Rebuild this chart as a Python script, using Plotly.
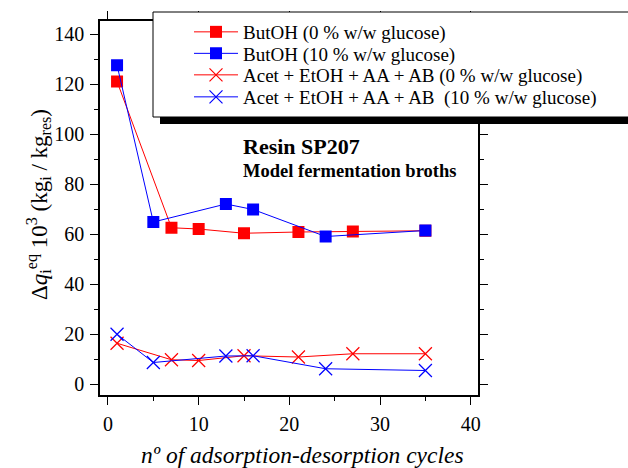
import plotly.graph_objects as go

FONT = "Liberation Serif"

# Data
but0_x = [1, 7, 10, 15, 21, 27, 35]
but0_y = [121, 62.5, 62, 60.3, 60.8, 61, 61.3]
but10_x = [1, 5, 13, 16, 24, 35]
but10_y = [127.5, 64.8, 72, 69.8, 59, 61.4]
acet0_x = [1, 7, 10, 15, 21, 27, 35]
acet0_y = [16.3, 9.7, 9.4, 11.3, 10.8, 12.1, 12.1]
acet10_x = [1, 5, 13, 16, 24, 35]
acet10_y = [19.9, 8.6, 11.2, 11.3, 6.1, 5.4]

names = [
    "ButOH (0 % w/w glucose)",
    "ButOH (10 % w/w glucose)",
    "Acet + EtOH + AA + AB (0 % w/w glucose)",
    "Acet + EtOH + AA + AB  (10 % w/w glucose)",
]
x_title = "<i>nº of adsorption-desorption cycles</i>"
y_title = "Δ<i>q</i><sub>i</sub><sup>eq</sup> 10<sup>3</sup> (kg<sub>i</sub> / kg<sub>res</sub>)"

RED = "#FF0000"
BLUE = "#0000FF"

fig = go.Figure()
fig.add_trace(go.Scatter(x=but0_x, y=but0_y, name=names[0], mode="lines+markers",
                         legend="legend",
                         line=dict(color=RED, width=1),
                         marker=dict(symbol="square", size=12, color=RED)))
fig.add_trace(go.Scatter(x=but10_x, y=but10_y, name=names[1], mode="lines+markers",
                         legend="legend2",
                         line=dict(color=BLUE, width=1),
                         marker=dict(symbol="square", size=12, color=BLUE)))
fig.add_trace(go.Scatter(x=acet0_x, y=acet0_y, name=names[2], mode="lines+markers",
                         legend="legend3",
                         line=dict(color=RED, width=1),
                         marker=dict(symbol="x-thin-open", size=13, color=RED,
                                     line=dict(color=RED, width=1.2))))
fig.add_trace(go.Scatter(x=acet10_x, y=acet10_y, name=names[3], mode="lines+markers",
                         legend="legend4",
                         line=dict(color=BLUE, width=1),
                         marker=dict(symbol="x-thin-open", size=13, color=BLUE,
                                     line=dict(color=BLUE, width=1.2))))

L, R, T, B = 100, 150, 21, 73
W, H = 628, 468
pw, ph = W - L - R, H - T - B

def px_x(p):
    return (p - L) / pw

def px_y(p):
    return (H - B - p) / ph

# legend box shadow and frame
fig.add_shape(type="rect", xref="paper", yref="paper",
              x0=px_x(160), x1=px_x(640), y0=px_y(124), y1=px_y(112),
              fillcolor="black", line=dict(width=0), layer="above")
fig.add_shape(type="rect", xref="paper", yref="paper",
              x0=px_x(153), x1=px_x(640), y0=px_y(117), y1=px_y(12),
              fillcolor="white", line=dict(color="black", width=1), layer="above")

fig.add_annotation(text="<b>Resin SP207</b>", xref="paper", yref="paper",
                   x=px_x(241), y=px_y(146), xanchor="left", yanchor="middle",
                   showarrow=False, font=dict(family=FONT, size=22, color="black"))
fig.add_annotation(text="<b>Model fermentation broths</b>", xref="paper", yref="paper",
                   x=px_x(241), y=px_y(171), xanchor="left", yanchor="middle",
                   showarrow=False, font=dict(family=FONT, size=18.5, color="black"))

# axis titles
fig.add_annotation(text=x_title, xref="paper", yref="paper",
                   x=px_x(302), y=px_y(455), xanchor="center", yanchor="middle",
                   showarrow=False, font=dict(family=FONT, size=23.5, color="black"))
fig.add_annotation(text=y_title, xref="paper", yref="paper", textangle=-90,
                   x=px_x(38), y=px_y(205), xanchor="center", yanchor="middle",
                   showarrow=False, font=dict(family=FONT, size=23, color="black"))

axis_common = dict(showline=True, linecolor="black", linewidth=1.5, mirror="ticks",
                   ticks="outside", ticklen=8, tickwidth=1.2, tickcolor="black",
                   showgrid=False, zeroline=False, ticklabelstandoff=2,
                   tickfont=dict(family=FONT, size=20, color="black"))

fig.update_xaxes(range=[-0.88, 40.8], dtick=10, tick0=0,
                 minor=dict(dtick=5, ticklen=4, ticks="outside", tickcolor="black"),
                 **axis_common)
fig.update_yaxes(range=[-4.4, 145.2], dtick=20, tick0=0,
                 minor=dict(dtick=10, ticklen=4, ticks="outside", tickcolor="black"),
                 **axis_common)

row_y = [32, 53.5, 75, 97]
leg_common = dict(xref="container", yref="container", x=189 / W,
                  xanchor="left", yanchor="middle",
                  bgcolor="rgba(0,0,0,0)", borderwidth=0,
                  font=dict(family=FONT, size=19, color="black"),
                  itemwidth=44)

fig.update_layout(
    width=W, height=H,
    margin=dict(l=L, r=R, t=T, b=B, autoexpand=False),
    paper_bgcolor="white", plot_bgcolor="white",
    showlegend=True,
    legend=dict(y=1 - row_y[0] / H, **leg_common),
    legend2=dict(y=1 - row_y[1] / H, **leg_common),
    legend3=dict(y=1 - row_y[2] / H, **leg_common),
    legend4=dict(y=1 - row_y[3] / H, **leg_common),
    font=dict(family=FONT, color="black"),
)

fig.write_html("out.html")
